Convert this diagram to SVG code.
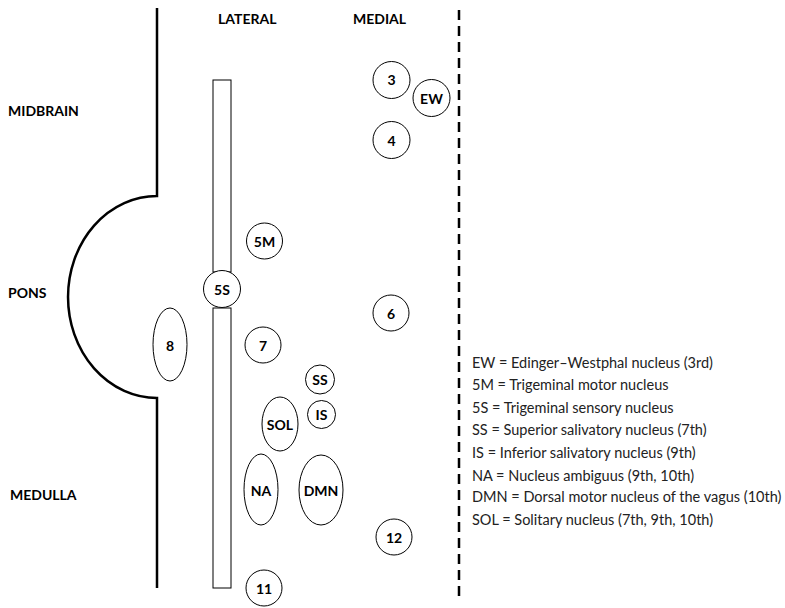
<svg xmlns="http://www.w3.org/2000/svg" width="785" height="608" viewBox="0 0 785 608">
<style>
.b{font-family:Lato,"Open Sans",sans-serif;font-weight:bold;font-size:14px;fill:#000}
.n{font-family:Lato,"Open Sans",sans-serif;font-weight:bold;font-size:14px;fill:#000;text-anchor:middle;dominant-baseline:central}
.l{font-family:Lato,"Open Sans",sans-serif;font-size:14.5px;fill:#222}
.s{fill:#fff;stroke:#000;stroke-width:1}
</style>
<rect width="785" height="608" fill="#fff"/>
<g id="outline">
<path d="M157 8 V196 A89 101 0 0 0 157 398 V588" fill="none" stroke="#000" stroke-width="2.5"/>
<line x1="459" y1="10" x2="459" y2="600" stroke="#000" stroke-width="2.5" stroke-dasharray="10 6"/>
</g>
<g id="headers">
<text class="b" x="218" y="24">LATERAL</text>
<text class="b" x="353" y="24">MEDIAL</text>
<text class="b" x="8" y="116">MIDBRAIN</text>
<text class="b" x="8" y="298">PONS</text>
<text class="b" x="10" y="500">MEDULLA</text>
</g>
<g id="trigeminal-column">
<rect class="s" x="213" y="80" width="18" height="192"/>
<rect class="s" x="213" y="308" width="18" height="280"/>
</g>
<g id="n5S"><circle class="s" cx="222" cy="289" r="18.5"/><text class="n" x="222" y="289">5S</text></g>
<g id="n3"><circle class="s" cx="391.5" cy="80" r="18.5"/><text class="n" x="391.5" y="79">3</text></g>
<g id="nEW"><circle class="s" cx="431.5" cy="98" r="18.5"/><text class="n" x="431.5" y="98">EW</text></g>
<g id="n4"><circle class="s" cx="391.5" cy="140" r="18.5"/><text class="n" x="391.5" y="140">4</text></g>
<g id="n5M"><circle class="s" cx="264.5" cy="241" r="18"/><text class="n" x="264.5" y="241">5M</text></g>
<g id="n6"><circle class="s" cx="391" cy="313" r="18"/><text class="n" x="391" y="313">6</text></g>
<g id="n7"><circle class="s" cx="263" cy="345" r="18"/><text class="n" x="263" y="345">7</text></g>
<g id="n8"><ellipse class="s" cx="170" cy="344.5" rx="17" ry="36.5"/><text class="n" x="170" y="345">8</text></g>
<g id="nSS"><circle class="s" cx="320" cy="379.5" r="14.5"/><text class="n" x="320" y="379.5">SS</text></g>
<g id="nIS"><circle class="s" cx="321.5" cy="414.5" r="14"/><text class="n" x="321.5" y="414">IS</text></g>
<g id="nSOL"><ellipse class="s" cx="280" cy="424" rx="18" ry="27"/><text class="n" x="280" y="424">SOL</text></g>
<g id="nNA"><ellipse class="s" cx="261" cy="489.5" rx="17" ry="35.5"/><text class="n" x="261" y="490">NA</text></g>
<g id="nDMN"><ellipse class="s" cx="321" cy="490" rx="22" ry="35"/><text class="n" x="321" y="490">DMN</text></g>
<g id="n12"><circle class="s" cx="394" cy="537" r="18"/><text class="n" x="394" y="537">12</text></g>
<g id="n11"><circle class="s" cx="264" cy="588" r="18"/><text class="n" x="264" y="588">11</text></g>
<g id="legend">
<text class="l" x="472" y="368">EW = Edinger–Westphal nucleus (3rd)</text>
<text class="l" x="472" y="390">5M = Trigeminal motor nucleus</text>
<text class="l" x="472" y="413">5S = Trigeminal sensory nucleus</text>
<text class="l" x="472" y="435">SS = Superior salivatory nucleus (7th)</text>
<text class="l" x="472" y="458">IS = Inferior salivatory nucleus (9th)</text>
<text class="l" x="472" y="481">NA = Nucleus ambiguus (9th, 10th)</text>
<text class="l" x="472" y="502">DMN = Dorsal motor nucleus of the vagus (10th)</text>
<text class="l" x="472" y="525">SOL = Solitary nucleus (7th, 9th, 10th)</text>
</g>
</svg>
